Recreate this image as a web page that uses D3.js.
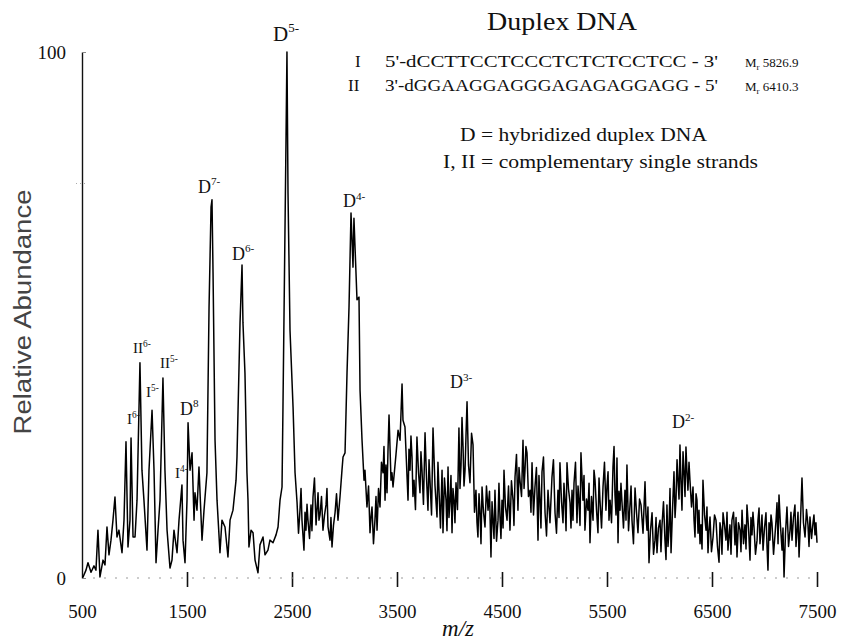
<!DOCTYPE html>
<html>
<head>
<meta charset="utf-8">
<script src="https://cdn.jsdelivr.net/npm/d3@7"></script>
<style>
body { margin: 0; background: #fff; }
svg { display: block; }
</style>
</head>
<body>
<div id="chartContainer"></div>
<script>
var width = 846;
var height = 642;

// [m/z, relative abundance]
var spectrum = [
    [500, 0.2], [510, 0.2], [538, 1.5], [557, 2.9], [586, 1.1], [614, 2.3], [633, 1.5], [652, 9.1], [671, 0.2],
    [700, 3.4], [719, 2.5], [738, 9.7], [757, 4.4], [776, 7.2], [795, 11.0], [814, 15.4], [833, 7.8], [852, 9.1],
    [881, 4.8], [900, 11.0], [919, 25.9], [938, 5.9], [957, 11.0], [967, 26.6], [986, 7.8], [1005, 7.8],
    [1024, 14.8], [1052, 40.9], [1071, 20.5], [1090, 14.8], [1119, 5.3], [1138, 20.5], [1167, 31.9], [1186, 20.5],
    [1205, 2.9], [1224, 9.1], [1243, 14.8], [1271, 38.0], [1290, 20.5], [1310, 9.1], [1338, 1.9], [1357, 3.4],
    [1376, 9.1], [1405, 4.8], [1424, 11.0], [1452, 17.7], [1462, 7.2], [1481, 2.9], [1500, 14.8], [1510, 29.5],
    [1529, 20.5], [1548, 23.8], [1567, 11.0], [1576, 16.2], [1595, 12.9], [1614, 21.1], [1643, 7.2], [1662, 12.9],
    [1690, 20.0], [1710, 51.5], [1729, 70.5], [1738, 71.9], [1748, 58.0], [1767, 26.2], [1786, 14.8], [1814, 4.8],
    [1833, 11.0], [1862, 9.7], [1890, 4.0], [1910, 11.0], [1938, 12.9], [1967, 18.6], [1976, 23.0], [2005, 48.5],
    [2024, 59.5], [2033, 48.5], [2052, 39.0], [2071, 20.0], [2081, 14.8], [2090, 5.9], [2110, 9.1], [2129, 8.6],
    [2148, 3.4], [2176, 1.0], [2195, 6.3], [2224, 7.8], [2243, 4.4], [2271, 5.3], [2290, 7.2], [2319, 6.7],
    [2348, 8.2], [2367, 9.7], [2386, 14.8], [2405, 17.3], [2414, 32.5], [2443, 83.3], [2452, 100], [2462, 73.2],
    [2481, 47.1], [2510, 32.5], [2529, 20.0], [2548, 14.4], [2562, 8.5], [2576, 12.9], [2586, 17.0], [2595, 11.0],
    [2614, 5.3], [2624, 12.5], [2633, 9.1], [2643, 14.0], [2652, 11.0], [2667, 7.5], [2681, 13.9], [2690, 9.0],
    [2700, 15.4], [2714, 19.0], [2729, 10.1], [2738, 13.0], [2748, 16.2], [2757, 11.0], [2767, 12.0], [2781, 15.5],
    [2795, 9.1], [2810, 12.0], [2824, 13.9], [2833, 17.0], [2843, 9.7], [2862, 7.2], [2871, 11.5], [2881, 5.9],
    [2895, 10.0], [2910, 12.4], [2924, 16.0], [2938, 11.0], [2957, 15.4], [2976, 20.5], [2986, 23.0],
    [3005, 23.8], [3024, 39.0], [3043, 51.5], [3062, 69.4], [3081, 59.1], [3090, 68.4], [3119, 52.9], [3138, 53.4],
    [3148, 35.7], [3167, 26.2], [3186, 18.6], [3195, 20.5], [3214, 13.5], [3229, 17.5], [3243, 8.6], [3252, 11.5],
    [3262, 13.5], [3276, 6.5], [3290, 11.0], [3300, 15.5], [3310, 9.1], [3324, 17.0], [3338, 13.5], [3352, 22.0],
    [3367, 20.0], [3376, 25.0], [3386, 14.8], [3395, 21.5], [3405, 16.2], [3414, 24.0], [3424, 31.0], [3443, 18.6],
    [3452, 20.0], [3462, 17.3], [3490, 23.4], [3510, 28.1], [3529, 26.2], [3548, 36.9], [3557, 30.0], [3576, 28.7],
    [3590, 22.0], [3605, 14.8], [3614, 24.5], [3624, 20.5], [3633, 27.0], [3643, 23.0], [3652, 15.5], [3662, 18.6],
    [3676, 13.0], [3690, 26.8], [3705, 20.0], [3719, 16.2], [3728, 24.0], [3738, 20.5], [3752, 14.0], [3767, 27.6],
    [3781, 19.0], [3795, 12.9], [3805, 22.5], [3814, 18.6], [3829, 12.0], [3843, 28.5], [3862, 17.5], [3881, 11.6],
    [3890, 22.0], [3900, 16.7], [3914, 9.5], [3929, 20.5], [3938, 8.6], [3952, 19.0], [3967, 14.8], [3976, 9.0],
    [3986, 21.1], [3995, 11.5], [4005, 14.8], [4014, 19.5], [4024, 8.6], [4033, 17.0], [4043, 14.8], [4052, 10.5],
    [4062, 18.1], [4076, 13.0], [4090, 28.5], [4100, 17.0], [4110, 21.5], [4119, 30.5], [4129, 24.9], [4138, 17.5],
    [4148, 20.5], [4157, 27.0], [4167, 33.5], [4181, 21.5], [4195, 18.1], [4210, 27.5], [4224, 25.3], [4238, 12.5],
    [4252, 16.7], [4262, 10.5], [4271, 7.8], [4281, 16.0], [4290, 12.9], [4300, 6.5], [4310, 17.3], [4324, 12.5],
    [4338, 9.7], [4352, 17.5], [4367, 12.9], [4381, 16.5], [4395, 4.0], [4405, 14.5], [4414, 11.0], [4424, 7.5],
    [4433, 16.7], [4448, 7.0], [4462, 11.0], [4471, 18.0], [4481, 11.6], [4490, 7.5], [4500, 14.8], [4510, 9.5],
    [4519, 20.5], [4533, 13.5], [4548, 11.0], [4562, 17.5], [4576, 9.1], [4590, 18.5], [4605, 14.8], [4614, 10.0],
    [4624, 19.2], [4638, 23.5], [4652, 12.9], [4662, 21.0], [4671, 18.6], [4686, 15.5], [4700, 26.2], [4710, 17.0],
    [4719, 20.5], [4728, 25.0], [4738, 23.8], [4752, 15.5], [4767, 16.7], [4776, 12.5], [4786, 21.9], [4800, 12.0],
    [4814, 17.3], [4828, 21.0], [4843, 7.2], [4852, 19.5], [4862, 14.8], [4871, 9.5], [4881, 20.2], [4895, 23.0],
    [4910, 12.4], [4924, 8.0], [4938, 16.7], [4957, 10.5], [4976, 19.2], [4990, 22.5], [5005, 12.4], [5019, 8.5],
    [5033, 16.7], [5043, 11.5], [5052, 21.9], [5067, 14.5], [5081, 10.5], [5090, 18.0], [5100, 14.8], [5110, 9.0],
    [5119, 21.9], [5133, 17.0], [5148, 14.3], [5157, 9.5], [5167, 16.7], [5176, 11.0], [5186, 18.1], [5200, 22.0],
    [5214, 10.5], [5224, 17.5], [5233, 14.8], [5243, 10.0], [5252, 23.8], [5262, 19.0], [5271, 14.8], [5281, 19.5],
    [5290, 9.1], [5305, 15.0], [5319, 12.9], [5329, 18.0], [5338, 6.7], [5352, 15.5], [5367, 11.0], [5376, 20.5],
    [5386, 18.6], [5400, 13.0], [5414, 8.6], [5424, 19.0], [5433, 14.8], [5448, 9.5], [5462, 17.3], [5476, 22.0],
    [5490, 12.9], [5500, 17.5], [5510, 20.2], [5519, 11.0], [5529, 14.8], [5543, 10.5], [5557, 21.1], [5567, 25.0],
    [5576, 15.8], [5586, 12.0], [5595, 22.8], [5605, 6.7], [5614, 16.5], [5624, 12.9], [5633, 18.0], [5643, 14.3],
    [5657, 9.5], [5671, 16.7], [5681, 11.0], [5690, 21.5], [5705, 9.0], [5719, 13.9], [5729, 17.5], [5738, 11.0],
    [5752, 6.5], [5767, 17.1], [5781, 12.5], [5795, 8.6], [5810, 15.0], [5824, 13.9], [5843, 8.5], [5862, 18.3],
    [5871, 12.0], [5881, 9.1], [5890, 13.5], [5900, 2.9], [5914, 9.0], [5929, 12.4], [5943, 4.5], [5957, 7.2],
    [5967, 11.5], [5976, 4.8], [5990, 9.5], [6005, 11.0], [6014, 5.0], [6024, 10.1], [6038, 14.5], [6052, 7.2],
    [6062, 3.5], [6071, 13.9], [6081, 6.0], [6090, 9.1], [6100, 17.0], [6110, 4.8], [6124, 13.0], [6138, 20.2],
    [6148, 11.5], [6157, 14.8], [6167, 22.5], [6176, 18.6], [6186, 15.0], [6195, 25.3], [6205, 18.0], [6214, 12.9],
    [6224, 24.0], [6233, 20.5], [6243, 15.5], [6252, 24.9], [6262, 20.0], [6271, 16.7], [6281, 22.0], [6290, 18.6],
    [6305, 13.5], [6319, 17.3], [6329, 11.0], [6338, 7.8], [6348, 16.0], [6357, 14.8], [6367, 8.5], [6376, 12.9],
    [6386, 6.5], [6395, 10.1], [6405, 5.5], [6414, 18.6], [6429, 12.0], [6443, 9.1], [6452, 13.5], [6462, 4.8],
    [6471, 9.0], [6481, 11.6], [6495, 5.0], [6510, 7.8], [6524, 12.0], [6538, 11.0], [6552, 6.0], [6567, 3.0],
    [6576, 10.5], [6586, 9.1], [6595, 4.5], [6605, 12.4], [6619, 10.0], [6633, 7.2], [6643, 12.5], [6652, 5.3],
    [6662, 8.0], [6671, 10.1], [6681, 4.5], [6690, 11.0], [6705, 12.5], [6719, 6.3], [6729, 11.5], [6738, 4.0],
    [6752, 10.5], [6767, 9.1], [6776, 5.0], [6786, 12.9], [6800, 6.5], [6814, 10.1], [6824, 5.5], [6833, 13.9],
    [6848, 9.5], [6862, 3.4], [6871, 11.5], [6881, 8.2], [6890, 12.5], [6900, 9.7], [6914, 4.5], [6929, 7.2],
    [6938, 11.0], [6948, 13.3], [6957, 6.5], [6967, 9.1], [6976, 12.0], [6986, 5.3], [7000, 9.5], [7014, 12.4],
    [7024, 6.0], [7033, 1.5], [7043, 10.5], [7052, 7.2], [7062, 12.0], [7071, 10.5], [7086, 4.5], [7100, 8.2],
    [7110, 11.0], [7119, 14.3], [7129, 6.5], [7138, 15.8], [7152, 10.0], [7167, 5.3], [7176, 9.5], [7186, 0.2],
    [7200, 8.5], [7214, 13.5], [7229, 6.0], [7243, 9.1], [7252, 12.5], [7262, 7.2], [7276, 11.5], [7290, 13.9],
    [7300, 6.0], [7310, 9.1], [7319, 12.5], [7329, 4.0], [7343, 11.0], [7357, 19.0], [7371, 10.5], [7386, 7.8],
    [7400, 13.0], [7414, 10.1], [7424, 6.0], [7433, 11.6], [7448, 7.5], [7462, 10.5], [7471, 12.0], [7481, 8.2],
    [7490, 10.5], [7500, 6.7]
];

var xTickValues = [500, 1500, 2500, 3500, 4500, 5500, 6500, 7500];
var yTickValues = [0, 100];
var yMinorTicks = [75];

// duplex charge states: name, charge, m/z and abundance of the label anchor
var duplexNames = ['D', 'D', 'D', 'D', 'D', 'D', 'D'];
var duplexCharges = ['5-', '7-', '6-', '4-', '3-', '2-', '8'];
var duplexLabelMz = [2319, 1605, 1929, 2986, 4005, 6119, 1433];
var duplexLabelAbundance = [102.1, 73.2, 60.5, 70.5, 36.1, 28.5, 31.0];

// single strand charge states
var strandLabelNames = ['II', 'I', 'II', 'I', 'I'];
var strandLabelCharges = ['6-', '5-', '5-', '6-', '4-'];
var strandLabelMz = [986, 1110, 1243, 929, 1386];
var strandLabelAbundance = [42.8, 34.4, 39.9, 29.3, 19.0];

var titleText = 'Duplex DNA';
var strandNames = ['I', 'II'];
var strandSequences = ["5'-dCCTTCCTCCCTCTCTCCTCC - 3'", "3'-dGGAAGGAGGGAGAGAGGAGG - 5'"];
var strandMasses = ['5826.9', '6410.3'];
var legendLines = ['D = hybridized duplex DNA', 'I, II = complementary single strands'];

var serif = '"Liberation Serif", "DejaVu Serif", serif';

var plotLeft = 82;
var plotRight = 817;
var plotTop = 52;
var plotBottom = 578;

var svg = d3.select('#chartContainer').append('svg')
    .attr('width', width)
    .attr('height', height)
    .style('background', '#fff');

var x = d3.scaleLinear().domain([500, 7500]).range([plotLeft, plotRight]);
var y = d3.scaleLinear().domain([0, 100]).range([plotBottom, plotTop]);


function addXAxis() {
    var axis = d3.axisBottom(x)
        .tickValues(xTickValues)
        .tickFormat(d3.format('d'))
        .tickSize(0)
        .tickPadding(27);

    var g = svg.append('g')
        .attr('transform', 'translate(0,' + plotBottom + ')')
        .call(axis);

    // faint dotted baseline instead of a solid one
    g.select('.domain').remove();
    g.append('line')
        .attr('x1', plotLeft)
        .attr('x2', plotRight)
        .attr('stroke', '#999')
        .attr('stroke-width', 1)
        .attr('stroke-dasharray', '2,9');

    g.selectAll('.tick').filter(function (d) { return d !== 500; })
        .append('line')
        .attr('y1', -6)
        .attr('y2', 9)
        .attr('stroke', '#111')
        .attr('stroke-width', 1.6);

    g.selectAll('.tick text')
        .attr('font-family', serif)
        .attr('font-size', '19px')
        .attr('fill', '#111');

    svg.append('text')
        .attr('x', 458)
        .attr('y', 636)
        .attr('text-anchor', 'middle')
        .attr('font-family', serif)
        .attr('font-style', 'italic')
        .attr('font-size', '23px')
        .attr('fill', '#111')
        .text('m/z');
}

function addYAxis() {
    var axis = d3.axisLeft(y)
        .tickValues(yTickValues)
        .tickSize(-4)
        .tickSizeOuter(0)
        .tickPadding(16);

    var g = svg.append('g')
        .attr('transform', 'translate(' + plotLeft + ',0)')
        .call(axis);

    g.select('.domain').attr('stroke', '#111').attr('stroke-width', 1.4);
    g.selectAll('.tick line').attr('stroke', '#888');
    g.selectAll('.tick text')
        .attr('font-family', serif)
        .attr('font-size', '19px')
        .attr('fill', '#111');

    g.selectAll('.minorTick')
        .data(yMinorTicks)
        .enter()
        .append('line')
        .attr('class', 'minorTick')
        .attr('x1', -6)
        .attr('x2', 6)
        .attr('y1', function (d) { return y(d); })
        .attr('y2', function (d) { return y(d); })
        .attr('stroke', '#aaa')
        .attr('stroke-dasharray', '1,3');

    svg.append('text')
        .attr('transform', 'translate(31,312) rotate(-90)')
        .attr('text-anchor', 'middle')
        .attr('font-family', '"Liberation Sans", Arial, sans-serif')
        .attr('font-size', '23px')
        .attr('fill', '#444')
        .attr('textLength', 245)
        .attr('lengthAdjust', 'spacingAndGlyphs')
        .text('Relative Abundance');
}

function addSpectrum() {
    var line = d3.line()
        .x(function (d) { return x(d[0]); })
        .y(function (d) { return y(d[1]); });

    svg.append('path')
        .datum(spectrum)
        .attr('d', line)
        .attr('fill', 'none')
        .attr('stroke', '#000')
        .attr('stroke-width', 1.5)
        .attr('stroke-linejoin', 'round');
}

function addChargeLabel(name, charge, mz, abundance, size) {
    var label = svg.append('text')
        .attr('x', x(mz))
        .attr('y', y(abundance))
        .attr('font-family', serif)
        .attr('font-size', size + 'px')
        .attr('fill', '#111');

    label.append('tspan').text(name);
    label.append('tspan')
        .attr('font-size', (size * 0.62) + 'px')
        .attr('dy', -size * 0.42)
        .text(charge);
}

function addPeakLabels() {
    for (var i = 0; i < duplexNames.length; i++) {
        // the base peak label is printed a little larger
        var size = duplexCharges[i] === '5-' ? 21 : 18;
        addChargeLabel(duplexNames[i], duplexCharges[i], duplexLabelMz[i], duplexLabelAbundance[i], size);
    }
    for (var j = 0; j < strandLabelNames.length; j++) {
        addChargeLabel(strandLabelNames[j], strandLabelCharges[j], strandLabelMz[j], strandLabelAbundance[j], 15);
    }
}

function addHeader() {
    svg.append('text')
        .attr('x', 487)
        .attr('y', 30)
        .attr('font-family', serif)
        .attr('font-size', '26px')
        .attr('fill', '#111')
        .attr('textLength', 150)
        .attr('lengthAdjust', 'spacingAndGlyphs')
        .text(titleText);

    var baselines = [67, 91];
    var nameX = [355, 348];

    for (var i = 0; i < strandNames.length; i++) {
        svg.append('text')
            .attr('x', nameX[i])
            .attr('y', baselines[i])
            .attr('font-family', serif)
            .attr('font-size', '17px')
            .attr('fill', '#111')
            .text(strandNames[i]);

        svg.append('text')
            .attr('x', 385)
            .attr('y', baselines[i])
            .attr('font-family', serif)
            .attr('font-size', '17px')
            .attr('fill', '#111')
            .attr('textLength', 333)
            .attr('lengthAdjust', 'spacingAndGlyphs')
            .text(strandSequences[i]);

        var mass = svg.append('text')
            .attr('x', 745)
            .attr('y', baselines[i])
            .attr('font-family', serif)
            .attr('font-size', '13px')
            .attr('fill', '#111');
        mass.append('tspan').text('M');
        mass.append('tspan').attr('font-size', '9px').attr('dy', 3).text('r');
        mass.append('tspan').attr('dy', -3).text(' ' + strandMasses[i]);
    }

    var legendX = [460, 443];
    var legendY = [141, 168];
    var legendWidth = [247, 315];

    for (var k = 0; k < legendLines.length; k++) {
        svg.append('text')
            .attr('x', legendX[k])
            .attr('y', legendY[k])
            .attr('font-family', serif)
            .attr('font-size', '19px')
            .attr('fill', '#111')
            .attr('textLength', legendWidth[k])
            .attr('lengthAdjust', 'spacingAndGlyphs')
            .text(legendLines[k]);
    }
}

addXAxis();
addYAxis();
addSpectrum();
addPeakLabels();
addHeader();
</script>
</body>
</html>
